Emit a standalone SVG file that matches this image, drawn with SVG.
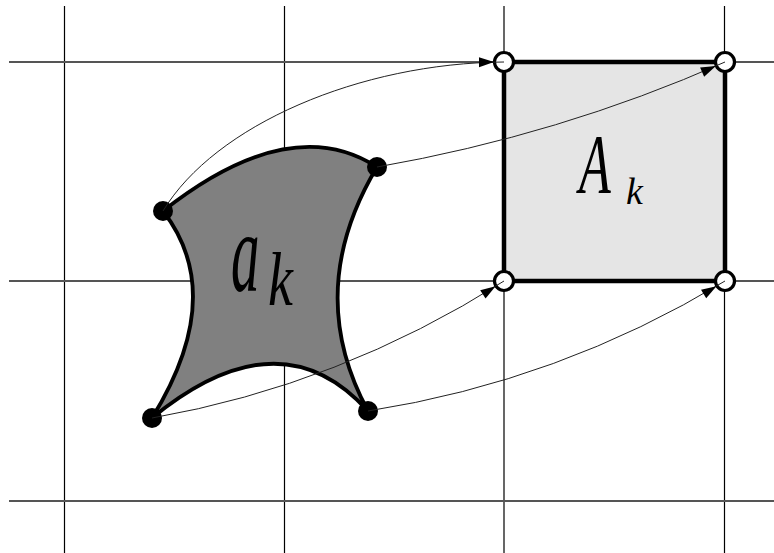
<svg xmlns="http://www.w3.org/2000/svg" width="774" height="553" viewBox="0 0 774 553">
<style>
.vg{stroke:#000;stroke-width:1.2;fill:none}
.hg{stroke:#555;stroke-width:1.8;fill:none}
.quad{fill:#808080;stroke:#000;stroke-width:3.8;stroke-linejoin:round}
.sq{fill:#e5e5e5;stroke:#000;stroke-width:4.5}
.dot{fill:#000}
.ring{fill:#fff;stroke:#000;stroke-width:3.2}
.conn{fill:none;stroke:#222;stroke-width:1}
.lbl{font-family:"Liberation Serif","DejaVu Serif",serif;font-style:italic;fill:#000}
</style>
<defs>
<marker id="arr" markerUnits="userSpaceOnUse" viewBox="-30 -10 40 20" markerWidth="40" markerHeight="20" refX="0" refY="0" orient="auto">
<path d="M-10,0 L-25,-5 L-25,5 Z" fill="#000"/>
</marker>
</defs>
<g id="grid">
<line class="vg" x1="64.5" y1="6" x2="64.5" y2="553"/>
<line class="vg" x1="284.5" y1="6" x2="284.5" y2="553"/>
<line class="vg" x1="504" y1="6" x2="504" y2="553"/>
<line class="vg" x1="724.5" y1="6" x2="724.5" y2="553"/>
<line class="hg" x1="9" y1="62" x2="774" y2="62"/>
<line class="hg" x1="9" y1="281" x2="774" y2="281"/>
<line class="hg" x1="9" y1="501" x2="774" y2="501"/>
</g>
<g id="a_k">
<path class="quad" d="M163,211 Q290,111 377,167 Q303,291 368,411 Q280,313 152,418 Q228,295 163,211 Z"/>
<text class="lbl" transform="translate(231,291) scale(1,2)" font-size="57">a</text>
<text class="lbl" transform="translate(268,305) scale(1,1.37)" font-size="56">k</text>
</g>
<g id="A_k">
<rect class="sq" x="504" y="62" width="221" height="219"/>
<text class="lbl" transform="translate(579,193) scale(1,1.63)" font-size="52">A</text>
<text class="lbl" transform="translate(626,204)" font-size="38">k</text>
</g>
<g id="src-points">
<circle class="dot" cx="163" cy="211" r="10"/>
<circle class="dot" cx="377" cy="167" r="10"/>
<circle class="dot" cx="152" cy="418" r="10"/>
<circle class="dot" cx="368" cy="411" r="10"/>
</g>
<g id="dst-points">
<circle class="ring" cx="504" cy="62" r="9.5"/>
<circle class="ring" cx="725" cy="62" r="9.5"/>
<circle class="ring" cx="504" cy="281" r="9.5"/>
<circle class="ring" cx="725" cy="281" r="9.5"/>
</g>
<g id="connectors">
<path class="conn" d="M163,211 C215,125 360,63 504,62" marker-end="url(#arr)"/>
<path class="conn" d="M377,167 Q560,135 725,62" marker-end="url(#arr)"/>
<path class="conn" d="M152,418 Q340,385 504,281" marker-end="url(#arr)"/>
<path class="conn" d="M368,411 Q560,381 725,281" marker-end="url(#arr)"/>
</g>
</svg>
